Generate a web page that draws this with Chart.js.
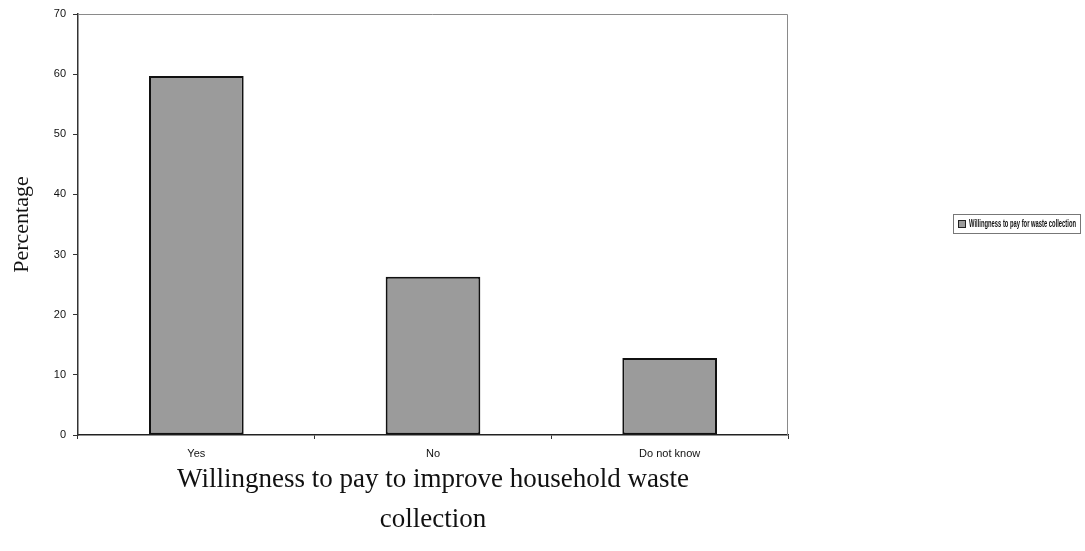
<!DOCTYPE html>
<html>
<head>
<meta charset="utf-8">
<script src="https://cdn.jsdelivr.net/npm/chart.js@4"></script>
<style>
  html, body { margin: 0; padding: 0; background: #fff; }
  canvas { display: block; }
</style>
</head>
<body>
<canvas id="wtpChart" width="1085" height="551"></canvas>
<script>
// values
const categories = ["Yes", "No", "Do not know"];
const percentages = [59.7, 26.3, 12.8];
const seriesLabel = "Willingness to pay for waste collection";
const yTicks = [0, 10, 20, 30, 40, 50, 60, 70];

const barFill = "#9b9b9b";

// gray frame on top/right of the plot area, like the Excel original
const plotFrame = {
    id: "plotFrame",
    beforeDatasetsDraw(chart) {
        const a = chart.chartArea;
        const ctx = chart.ctx;
        ctx.save();
        ctx.strokeStyle = "#8a8a8a";
        ctx.lineWidth = 1;
        ctx.beginPath();
        ctx.moveTo(a.left, a.top + 0.5);
        ctx.lineTo(a.right - 0.5, a.top + 0.5);
        ctx.lineTo(a.right - 0.5, a.bottom);
        ctx.stroke();
        ctx.restore();
    }
};

// boxed legend off to the right
const boxLegend = {
    id: "boxLegend",
    afterDraw(chart) {
        const ctx = chart.ctx;
        const ds = chart.data.datasets[0];
        const x = 953, y = 214, w = 127, h = 19;
        ctx.save();
        ctx.strokeStyle = "#777";
        ctx.lineWidth = 1;
        ctx.strokeRect(x + 0.5, y + 0.5, w, h);
        ctx.fillStyle = ds.backgroundColor;
        ctx.fillRect(x + 5, y + 6, 8, 8);
        ctx.strokeStyle = "#222";
        ctx.strokeRect(x + 5.5, y + 6.5, 7, 7);
        ctx.fillStyle = "#111";
        ctx.font = "bold 10px 'Liberation Sans Narrow', 'Liberation Sans'";
        ctx.textBaseline = "middle";
        ctx.fillText(ds.label, x + 16, y + 10.5, w - 20);
        ctx.restore();
    }
};

const ctx = document.getElementById("wtpChart").getContext("2d");

new Chart(ctx, {
    type: "bar",
    data: {
        labels: categories,
        datasets: [{
            label: seriesLabel,
            data: percentages,
            backgroundColor: barFill,
            borderColor: "#111",
            borderWidth: 2,
            borderSkipped: false,
            categoryPercentage: 1.0,
            barPercentage: 0.4
        }]
    },
    options: {
        responsive: false,
        animation: false,
        devicePixelRatio: 1,
        layout: {
            padding: { left: 6, top: 14, right: 297, bottom: 0 }
        },
        plugins: {
            legend: { display: false },
            tooltip: { enabled: false }
        },
        scales: {
            x: {
                afterFit(scale) { scale.height = 116; },
                grid: {
                    offset: true,
                    drawOnChartArea: false,
                    drawTicks: true,
                    tickLength: 4,
                    color: "#333"
                },
                border: { color: "#222", width: 1.5 },
                ticks: {
                    color: "#111",
                    padding: 8,
                    font: { family: "'Liberation Sans'", size: 11 }
                },
                title: {
                    display: true,
                    text: ["Willingness to pay to improve household waste", "collection"],
                    color: "#111",
                    font: { family: "'Liberation Serif'", size: 27, lineHeight: 1.45 },
                    padding: { top: 4, bottom: 12 }
                }
            },
            y: {
                min: 0,
                max: 70,
                afterFit(scale) { scale.width = 72; },
                afterBuildTicks(scale) {
                    scale.ticks = yTicks.map(v => ({ value: v }));
                },
                grid: {
                    drawOnChartArea: false,
                    drawTicks: true,
                    tickLength: 5,
                    color: "#333"
                },
                border: { color: "#333", width: 1.5 },
                ticks: {
                    color: "#111",
                    padding: 7,
                    font: { family: "'Liberation Sans'", size: 11 }
                },
                title: {
                    display: true,
                    text: "Percentage",
                    color: "#111",
                    font: { family: "'Liberation Serif'", size: 22, lineHeight: 1.2 },
                    padding: { top: 3, bottom: 0 }
                }
            }
        }
    },
    plugins: [plotFrame, boxLegend]
});
</script>
</body>
</html>
